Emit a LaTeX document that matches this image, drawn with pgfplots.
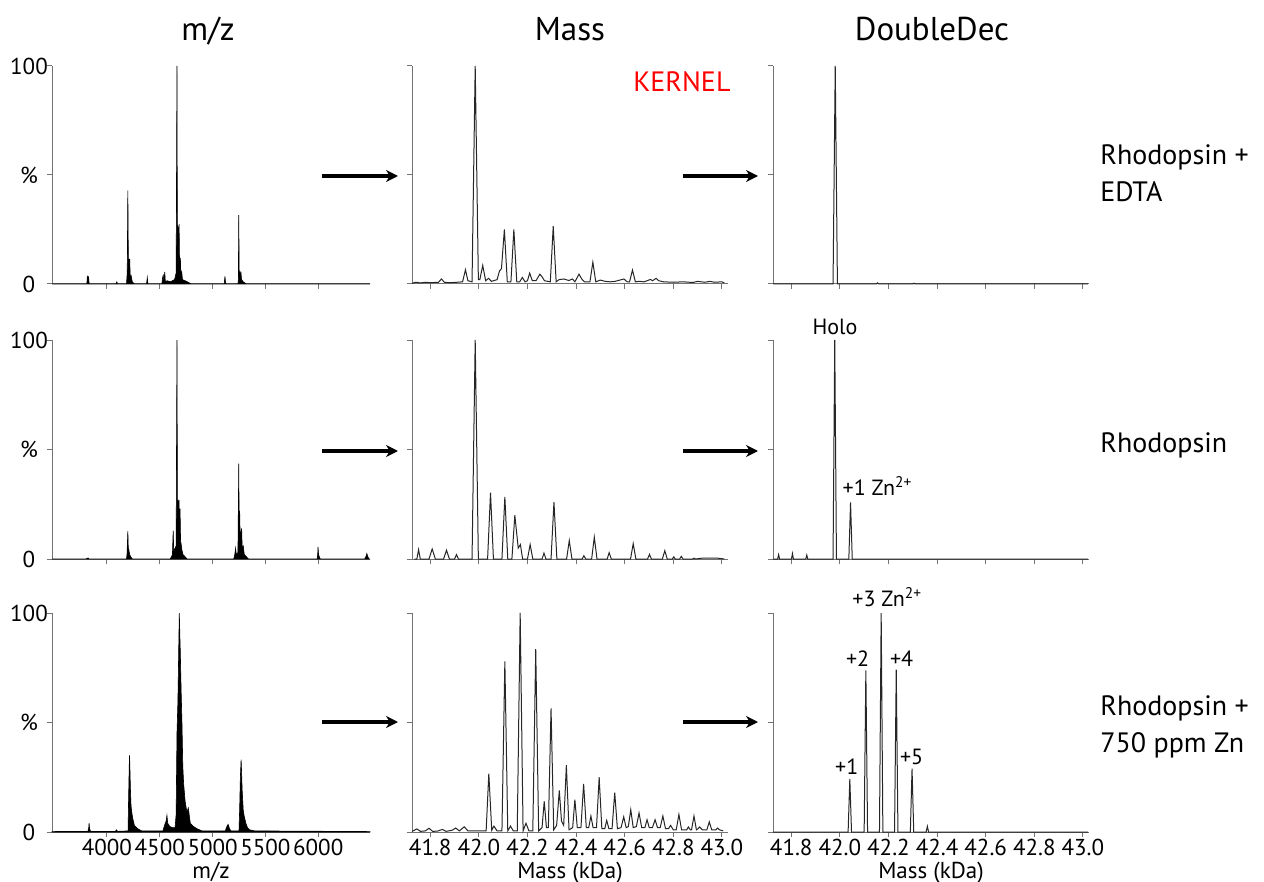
\documentclass[border=0pt]{standalone}
\usepackage{fontspec}
\setmainfont{PT Sans}
\usepackage{pgfplots}
\pgfplotsset{compat=1.18}
\usetikzlibrary{arrows.meta}

% 1 px of the reference = 0.5pt
\pgfplotsset{
  panel/.style={
    scale only axis, height=109pt,
    ymin=0, ymax=100, ytick={0,50,100}, yticklabels={},
    axis lines=left,
    axis line style={-, black!55, line width=0.5pt},
    every outer x axis line/.append style={-},
    every outer y axis line/.append style={-},
    tick style={black!55, line width=0.5pt},
    tick align=outside, major tick length=2.5pt,
    clip=false,
    tick label style={font=\fontsize{11.5}{13}\selectfont},
    /pgf/number format/assume math mode=true,
    xlabel style={font=\fontsize{11.5}{13}\selectfont, inner sep=0pt,
      at={(axis description cs:0.5,0)}, anchor=base, yshift=-23pt},
    xticklabel style={inner sep=1pt},
  },
  mz/.style={panel, width=159pt, xmin=3480, xmax=6490,
    xtick={4000,4500,5000,5500,6000},
    yticklabels={0,\%,100},
    yticklabel style={anchor=center, xshift=-9pt}},
  kda/.style={panel, width=158pt, xmin=41.725, xmax=43.025,
    xtick={41.8,42,42.2,42.4,42.6,42.8,43}},
  spec/.style={black!85, line width=0.5pt, mark=none},
  stick/.style={fill=black, draw=black, line width=0.3pt, mark=none},
}
\tikzset{ann/.style={anchor=base west, font=\fontsize{11}{13}\selectfont, inner sep=0pt}}

\begin{document}
\begin{tikzpicture}
\useasboundingbox (0,0) rectangle (632pt,-441pt);

% column headers
\node[anchor=base, font=\fontsize{16.5}{19}\selectfont] at (104pt,-20.5pt) {m/z};
\node[anchor=base, font=\fontsize{16.5}{19}\selectfont] at (285pt,-20.5pt) {Mass};
\node[anchor=base, font=\fontsize{16.5}{19}\selectfont] at (466pt,-20.5pt) {DoubleDec};

% ---------------- row 1: Rhodopsin + EDTA ----------------
\begin{axis}[mz, at={(26pt,-142pt)}, anchor=south west, xticklabels={}]
\addplot[stick] coordinates {
 (3480,0) (3810,0) (3815,3.8) (3820,1) (3825,3.5) (3832,0) (4085,0) (4094,1) (4100,0)
 (4185,0) (4192,5) (4198,42.8) (4203,8) (4207,11.5) (4212,4) (4216,11.5) (4220,3) (4228,4) (4240,1) (4260,0)
 (4375,0) (4382,3) (4388,0)
 (4520,0) (4527,3) (4533,4) (4540,1) (4547,5.5) (4553,1) (4570,1.5) (4600,1) (4640,2)
 (4655,5) (4663,100) (4667,10) (4672,27) (4676,8) (4683,27.5) (4688,6) (4695,12) (4700,4) (4708,5.5) (4715,2) (4740,1.5) (4780,0.5) (4800,0)
 (5110,0) (5117,3.5) (5122,1) (5128,0)
 (5240,0) (5244,2) (5248,31.6) (5252,3) (5258,5) (5262,2) (5268,5.7) (5274,2) (5290,1) (5320,0)
 (6490,0)
} \closedcycle;
\end{axis}

\begin{axis}[kda, at={(206pt,-142pt)}, anchor=south west, xticklabels={}]
\addplot[spec] coordinates {
 (41.725,0.3) (41.74,0.8) (41.76,0.5) (41.78,0.8) (41.80,0.6)
 (41.834,0.8) (41.846,2.3) (41.858,0.8) (41.88,0.6) (41.91,0.8)
 (41.933,1) (41.945,6.5) (41.955,1.5) (41.972,1) (41.985,100) (41.998,2)
 (42.004,2) (42.016,8.5) (42.028,1.5) (42.04,2.6) (42.052,1.2)
 (42.075,2) (42.085,6) (42.093,7) (42.105,25) (42.117,1)
 (42.132,1) (42.144,25) (42.156,1)
 (42.168,1) (42.179,3) (42.19,1)
 (42.2,1.5) (42.209,5) (42.22,1.5)
 (42.235,1.5) (42.251,4.5) (42.262,3) (42.27,1.5)
 (42.294,1) (42.306,26.5) (42.318,1)
 (42.33,2) (42.35,2.3) (42.37,1.6) (42.385,2.3) (42.395,1)
 (42.412,4.5) (42.425,2) (42.435,1)
 (42.457,1) (42.469,10) (42.481,1)
 (42.5,1.8) (42.52,1.2) (42.54,1) (42.56,1.2) (42.597,2.3) (42.61,1)
 (42.62,1) (42.632,6.4) (42.644,1)
 (42.66,1.2) (42.68,1) (42.706,2.1) (42.715,1.5) (42.729,2.6) (42.74,1.5)
 (42.76,1) (42.8,0.8) (42.84,1) (42.88,0.7) (42.9,1.2) (42.93,0.8) (42.95,1.2) (42.97,0.8) (43.0,1) (43.01,0.5)
};
\end{axis}

\begin{axis}[kda, at={(386.5pt,-142pt)}, anchor=south west, xticklabels={}]
\addplot[spec] coordinates {
 (41.725,0) (41.972,0) (41.981,100) (41.99,0) (42.15,0) (42.155,0.5) (42.16,0)
 (42.3,0) (42.305,0.4) (42.31,0) (43.02,0)
};
\end{axis}

% ---------------- row 2: Rhodopsin ----------------
\begin{axis}[mz, at={(26pt,-279.5pt)}, anchor=south west, xticklabels={}, height=109.5pt]
\addplot[stick] coordinates {
 (3480,0) (3800,0) (3822,0.5) (3830,0)
 (4185,0) (4190,2) (4198,12.7) (4203,3) (4208,4) (4215,2) (4225,1) (4240,0)
 (4600,0) (4620,2) (4627,13) (4633,3) (4645,5) (4655,6) (4663,100) (4667,25) (4672,27) (4677,12) (4682,27) (4687,10) (4692,23) (4697,8) (4702,7) (4710,4) (4720,2) (4740,1) (4760,0)
 (5200,0) (5210,2) (5218,5) (5224,2) (5240,3) (5248,43.6) (5252,10) (5256,22) (5262,8) (5268,12) (5275,14) (5280,5) (5290,6) (5300,2) (5320,1) (5340,0)
 (5990,0) (5995,2) (5998,5.5) (6003,2) (6010,1) (6020,0)
 (6440,0) (6455,1.5) (6460,2.5) (6470,1) (6480,0) (6490,0)
} \closedcycle;
\end{axis}

\begin{axis}[kda, at={(206pt,-279.5pt)}, anchor=south west, xticklabels={}, height=109.5pt]
\addplot[spec] coordinates {
 (41.735,0) (41.745,0) (41.752,4.3) (41.759,0) (41.795,0) (41.808,4.6) (41.821,0)
 (41.855,0) (41.867,4) (41.879,0) (41.9,0) (41.908,2) (41.916,0)
 (41.972,0) (41.985,100) (41.998,0) (42.036,0) (42.048,30.3) (42.06,0)
 (42.095,0) (42.107,28.4) (42.119,0) (42.136,0) (42.148,20) (42.162,5) (42.171,6.6) (42.18,0)
 (42.2,0) (42.211,6.6) (42.222,0) (42.26,0) (42.268,2.7) (42.276,0)
 (42.297,0) (42.309,26) (42.321,0) (42.361,0) (42.372,8.4) (42.383,0)
 (42.425,0) (42.432,1.5) (42.44,0) (42.464,0) (42.475,10) (42.486,0)
 (42.528,0) (42.536,2.9) (42.545,0) (42.624,0) (42.635,7) (42.646,0)
 (42.694,0) (42.702,2.1) (42.71,0) (42.755,0) (42.765,3.8) (42.775,0)
 (42.796,0) (42.802,1) (42.808,0) (42.826,0) (42.833,1.2) (42.84,0)
 (42.88,0) (42.885,0.4) (42.89,0) (42.92,0.4) (42.95,0.4) (42.98,0.4) (43.01,0)
};
\end{axis}

\begin{axis}[kda, at={(386.5pt,-279.5pt)}, anchor=south west, xticklabels={}, height=109.5pt]
\addplot[spec] coordinates {
 (41.725,0) (41.744,0) (41.748,2) (41.752,0) (41.801,0) (41.805,2.5) (41.809,0)
 (41.86,0) (41.864,1.8) (41.868,0) (41.972,0) (41.979,100) (41.986,0)
 (42.037,0) (42.044,25.9) (42.051,0) (43.02,0)
};
\node[ann, anchor=base] at (axis cs:41.98,102.5) {Holo};
\node[ann] at (axis cs:42.01,29) {+1 Zn\textsuperscript{2+}};
\end{axis}

% ---------------- row 3: Rhodopsin + 750 ppm Zn ----------------
\begin{axis}[mz, at={(26pt,-416pt)}, anchor=south west, height=109.5pt,
  xticklabels={4000,4500,5000,5500,6000}, xlabel={m/z}]
\addplot[stick] coordinates {
 (3480,0.2) (3820,0.3) (3828,2) (3831,4) (3836,1.5) (3845,0.3) (4080,0.3) (4090,1) (4100,0.3)
 (4200,0.5) (4205,15) (4211,30) (4214,35) (4218,28) (4222,20) (4228,12) (4235,9) (4245,6) (4260,3) (4290,1.5) (4330,0.5)
 (4530,0.5) (4545,3) (4560,5) (4568,7.6) (4575,4) (4595,2.5) (4620,2) (4645,2)
 (4655,8) (4663,45) (4672,60) (4680,85) (4685,100) (4690,90) (4694,83) (4702,65) (4710,50) (4718,30) (4726,22) (4740,14) (4757,9) (4770,11) (4789,4) (4820,2.5) (4852,1.5) (4900,0.5)
 (5120,0.5) (5135,2.5) (5147,3.5) (5160,1.5) (5175,0.5)
 (5250,0.5) (5256,10) (5263,25) (5270,33) (5274,28) (5280,19) (5290,10) (5300,7) (5315,4) (5330,2) (5350,1) (5400,0.5) (6490,0.2)
} \closedcycle;
\end{axis}

\begin{axis}[kda, at={(206pt,-416pt)}, anchor=south west, height=109.5pt,
  xticklabels={41.8,42.0,42.2,42.4,42.6,42.8,43.0}, xlabel={Mass (kDa)}]
\addplot[spec] coordinates {
 (41.725,0.3) (41.745,1.4) (41.76,0.3) (41.78,0.5) (41.795,1.7) (41.81,0.3) (41.83,0.4) (41.85,1.2) (41.865,0.3)
 (41.89,0.8) (41.905,1.8) (41.92,0.5) (41.94,2.4) (41.955,0.5)
 (42.03,0.5) (42.041,26.7) (42.053,0.8) (42.062,2.7) (42.075,0.5)
 (42.095,0.5) (42.107,77.9) (42.119,0.5) (42.13,2.7) (42.142,0.5)
 (42.158,0.5) (42.170,100) (42.182,0.5) (42.194,4) (42.206,0.5)
 (42.222,0.5) (42.234,83.5) (42.246,0.5) (42.26,2) (42.269,14) (42.278,2)
 (42.286,2) (42.297,56.5) (42.308,1) (42.32,3) (42.331,19) (42.34,5)
 (42.349,3) (42.360,30.5) (42.371,1) (42.386,2) (42.395,14.8) (42.405,2)
 (42.42,2) (42.431,22) (42.442,2) (42.452,2) (42.461,7.3) (42.47,2)
 (42.484,2) (42.495,25) (42.506,1.5) (42.518,1.5) (42.526,5.3) (42.535,1.5)
 (42.548,1.5) (42.559,18) (42.57,1.5) (42.585,2) (42.596,6.9) (42.606,2)
 (42.615,2.5) (42.625,10.2) (42.635,2) (42.648,2.5) (42.659,8.7) (42.67,2)
 (42.683,2) (42.692,5.6) (42.701,2) (42.714,2) (42.725,5.6) (42.735,2)
 (42.746,2) (42.757,7.3) (42.768,1.5) (42.78,1.5) (42.789,3) (42.8,1)
 (42.812,1) (42.823,8) (42.834,1) (42.855,1) (42.862,2.3) (42.87,1)
 (42.875,1) (42.885,7.3) (42.895,1) (42.902,1.5) (42.908,2.3) (42.915,1.5)
 (42.92,1) (42.938,1) (42.948,4.6) (42.958,1) (42.975,1) (42.982,1.8) (42.99,1) (43.005,0.5)
};
\end{axis}

\begin{axis}[kda, at={(386.5pt,-416pt)}, anchor=south west, height=109.5pt,
  xticklabels={41.8,42.0,42.2,42.4,42.6,42.8,43.0}, xlabel={Mass (kDa)}]
\addplot[spec] coordinates {
 (41.725,0) (42.034,0) (42.041,24.2) (42.048,0) (42.1,0) (42.107,73.8) (42.114,0)
 (42.163,0) (42.170,100) (42.177,0) (42.225,0) (42.232,74.1) (42.239,0)
 (42.29,0) (42.297,28.9) (42.304,0) (42.355,0) (42.36,2.6) (42.365,0) (43.02,0)
};
\node[ann] at (axis cs:42.05,103) {+3 Zn\textsuperscript{2+}};
\node[ann] at (axis cs:42.024,75.5) {+2};
\node[ann] at (axis cs:42.205,75.6) {+4};
\node[ann] at (axis cs:41.979,26.2) {+1};
\node[ann] at (axis cs:42.246,30.7) {+5};
\end{axis}

% KERNEL label
\node[anchor=base west, inner sep=0pt, text=red, font=\fontsize{14}{17}\selectfont] at (316.5pt,-46pt) {KERNEL};

% arrows between panels
\foreach \yy in {-88pt,-225.5pt,-361pt} {
  \draw[line width=2pt, -{Stealth[length=6pt,width=6pt]}] (161pt,\yy) -- (199pt,\yy);
  \draw[line width=2pt, -{Stealth[length=6pt,width=6pt]}] (341.5pt,\yy) -- (379pt,\yy);
}

% row labels
\begin{scope}[every node/.style={anchor=base west, inner sep=0pt, font=\fontsize{14}{17}\selectfont}]
\node at (550pt,-82.5pt) {Rhodopsin +};
\node at (550pt,-101pt) {EDTA};
\node at (550pt,-226pt) {Rhodopsin};
\node at (550pt,-357.5pt) {Rhodopsin +};
\node at (550pt,-376pt) {750 ppm Zn};
\end{scope}
\end{tikzpicture}
\end{document}
